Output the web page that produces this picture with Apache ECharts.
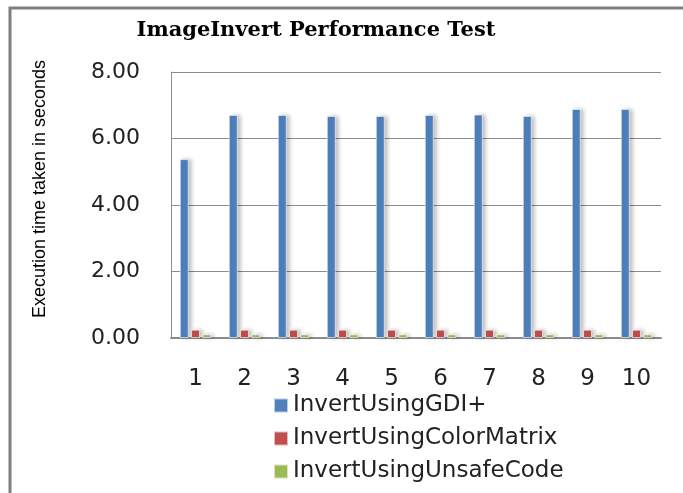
<!DOCTYPE html>
<html>
<head>
<meta charset="utf-8">
<script src="https://cdn.jsdelivr.net/npm/echarts@6/dist/echarts.min.js"></script>
<style>
	html, body { margin: 0; padding: 0; background: #fff; }
	#bar { width: 683px; height: 493px; }
</style>
</head>
<body>
<div id="bar"></div>
<script>
var categories = ['1', '2', '3', '4', '5', '6', '7', '8', '9', '10'];
var gdiTimes = [5.38, 6.71, 6.71, 6.68, 6.68, 6.71, 6.72, 6.68, 6.89, 6.89];
var colorMatrixTimes = [0.25, 0.25, 0.25, 0.25, 0.25, 0.25, 0.25, 0.25, 0.25, 0.25];
var unsafeCodeTimes = [0.11, 0.11, 0.11, 0.11, 0.11, 0.11, 0.11, 0.11, 0.11, 0.11];
var seriesNames = ['InvertUsingGDI+', 'InvertUsingColorMatrix', 'InvertUsingUnsafeCode'];

function createBarChart() {
	var barChart = echarts.init(document.getElementById('bar'));
	var barStyle = function (color) {
		return {
			color: color,
			borderColor: 'rgba(255,255,255,0.6)',
			borderWidth: 1,
			shadowColor: 'rgba(0,0,0,0.25)',
			shadowBlur: 4,
			shadowOffsetX: 3
		};
	};
	var option = {
		animation: false,
		color: ['#4F81BD', '#C0504D', '#9BBB59'],
		title: {
			text: 'ImageInvert Performance Test',
			left: 311,
			textAlign: 'center',
			top: 15,
			textStyle: {
				fontFamily: 'DejaVu Serif',
				fontWeight: 'bold',
				fontSize: 21,
				color: '#000'
			}
		},
		graphic: [{
			type: 'rect',
			shape: { x: 10, y: 8, width: 700, height: 520 },
			style: { fill: 'none', stroke: '#7f7f7f', lineWidth: 3 },
			silent: true
		}, {
			type: 'text',
			x: 40,
			y: 189,
			rotation: Math.PI / 2,
			style: {
				text: 'Execution time taken in seconds',
				fontFamily: 'Liberation Sans',
				fontSize: 18,
				fill: '#000',
				align: 'center',
				verticalAlign: 'middle'
			},
			silent: true
		}],
		legend: {
			orient: 'vertical',
			left: 268,
			top: 389,
			itemWidth: 14,
			itemHeight: 14,
			itemGap: 10,
			icon: 'rect',
			data: seriesNames,
			textStyle: {
				fontFamily: 'DejaVu Sans',
				fontSize: 23,
				lineHeight: 23,
				color: '#222'
			}
		},
		grid: {
			left: 171,
			top: 72,
			right: 22,
			bottom: 155,
			containLabel: false
		},
		xAxis: {
			type: 'category',
			data: categories,
			axisLine: { lineStyle: { color: '#8c8c8c', width: 2 } },
			axisTick: { show: false },
			axisLabel: {
				margin: 30,
				fontFamily: 'DejaVu Sans',
				fontSize: 23,
				color: '#222'
			}
		},
		yAxis: {
			type: 'value',
			min: 0,
			max: 8,
			interval: 2,
			axisLine: { show: true, lineStyle: { color: '#8c8c8c' } },
			axisTick: { show: false },
			splitLine: { lineStyle: { color: '#8c8c8c' } },
			axisLabel: {
				margin: 31,
				fontFamily: 'DejaVu Sans',
				fontSize: 22,
				color: '#222',
				formatter: function (v) { return v.toFixed(2); }
			}
		},
		series: [{
			name: seriesNames[0],
			type: 'bar',
			barWidth: 9,
			barGap: '25%',
			itemStyle: barStyle('#4F81BD'),
			data: gdiTimes
		}, {
			name: seriesNames[1],
			type: 'bar',
			barWidth: 9,
			barGap: '25%',
			itemStyle: barStyle('#C0504D'),
			data: colorMatrixTimes
		}, {
			name: seriesNames[2],
			type: 'bar',
			barWidth: 9,
			barGap: '25%',
			itemStyle: barStyle('#9BBB59'),
			data: unsafeCodeTimes
		}]
	};
	barChart.setOption(option);
}

createBarChart();
</script>
</body>
</html>
